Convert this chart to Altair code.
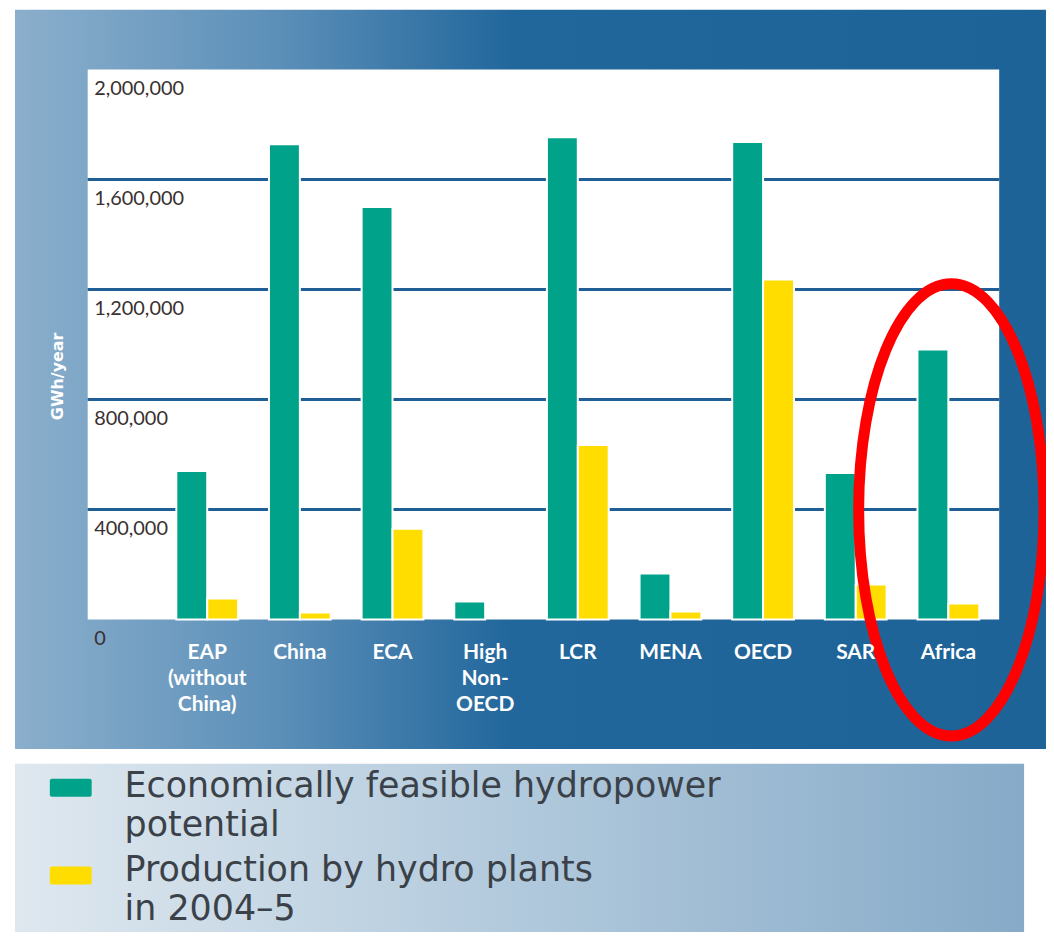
import altair as alt
import pandas as pd

# ---- data (GWh/year) ----
regions = ["EAP (without China)", "China", "ECA", "High Non-OECD", "LCR",
           "MENA", "OECD", "SAR", "Africa"]
potential = [540000, 1728000, 1500000, 65000, 1754000, 167000, 1736000, 533000, 982000]
production = [76000, 25000, 330000, 0, 634000, 29000, 1236000, 127000, 58000]
series = ["Economically feasible hydropower potential", "Production by hydro plants in 2004–5"]
legend_lines = ["Economically feasible hydropower\npotential", "Production by hydro plants\nin 2004–5"]
series_colors = ["#00a389", "#ffdd00"]
y_ticks = [0, 400000, 800000, 1200000, 1600000, 2000000]
grid_values = [400000, 800000, 1200000, 1600000]

rows = []
for r, p, q in zip(regions, potential, production):
    rows.append({"region": r, "series": series[0], "value": p})
    rows.append({"region": r, "series": series[1], "value": q})
df = pd.DataFrame(rows)
grid_df = pd.DataFrame({"value": grid_values})
one = pd.DataFrame({"a": [0]})

W, H = 915, 552
LABEL_FONT = "Lato, Roboto, Liberation Sans, sans-serif"

yscale = alt.Scale(domain=[0, 2000000], nice=False)
yaxis = alt.Axis(title=None, values=y_ticks, domain=False,
                 labelExpr="format(datum.value, ',')",
                 ticks=False, tickSize=0, grid=False, labelAlign="left",
                 labelBaseline="top", labelPadding=-6, labelOffset=9,
                 labelFont=LABEL_FONT, labelFontSize=20, labelColor="#3a3030",
                 zindex=1)

panel_grad = {"gradient": "linear", "x1": 0, "x2": 1, "y1": 0, "y2": 0,
              "stops": [{"offset": 0, "color": "#8bafcc"},
                        {"offset": 0.25, "color": "#5d90b9"},
                        {"offset": 0.48, "color": "#22679c"},
                        {"offset": 1, "color": "#1e6398"}]}
legend_grad = {"gradient": "linear", "x1": 0, "x2": 1, "y1": 0, "y2": 0,
               "stops": [{"offset": 0, "color": "#dfe8ef"},
                         {"offset": 0.5, "color": "#b1c9dc"},
                         {"offset": 1, "color": "#86aac8"}]}

base1 = alt.Chart(one)

panel = base1.mark_rect(color=panel_grad).encode(
    x=alt.value(-73), x2=alt.value(962), y=alt.value(-60), y2=alt.value(682))
legend_box = base1.mark_rect(color=legend_grad).encode(
    x=alt.value(-73), x2=alt.value(940), y=alt.value(697), y2=alt.value(880))
white = base1.mark_rect(color="white").encode(
    x=alt.value(0), x2=alt.value(W), y=alt.value(0), y2=alt.value(H))

grid = alt.Chart(grid_df).mark_rule(color="#1f5f96", strokeWidth=3).encode(
    y=alt.Y("value:Q", scale=yscale, axis=yaxis),
    x=alt.value(0), x2=alt.value(W))

bars = alt.Chart(df).transform_filter("datum.value > 0").mark_bar(
    stroke="white", strokeWidth=2).encode(
    x=alt.X("region:N", sort=regions,
            scale=alt.Scale(range=[73.5, 910.5], paddingInner=0.333, paddingOuter=0.1665),
            axis=alt.Axis(title=None, domain=False, ticks=False, tickSize=0,
                          labelAngle=0, labelPadding=22, labelColor="white",
                          labelFont=LABEL_FONT, labelFontSize=21, labelFontWeight="bold",
                          labelLineHeight=26, labelBaseline="top", labelLimit=200,
                          labelExpr="split(replace(datum.label, '-', '- '), ' ')",
                          zindex=1)),
    xOffset=alt.XOffset("series:N", sort=series,
                        scale=alt.Scale(paddingInner=0, paddingOuter=0)),
    y=alt.Y("value:Q", scale=yscale, axis=yaxis),
    color=alt.Color("series:N", scale=alt.Scale(domain=series, range=series_colors),
                    legend=None),
)

ellipse = base1.mark_point(
    shape="M -0.41 0 A 0.41 1 0 1 1 0.41 0 A 0.41 1 0 1 1 -0.41 0 Z",
    size=454 * 454, filled=False, stroke="#ff0000", strokeWidth=11, opacity=1
).encode(x=alt.value(867), y=alt.value(442))

ytitle = base1.mark_text(text="GWh/year", angle=270, color="white", font="DejaVu Sans",
                         fontWeight="bold", fontSize=16, align="center",
                         baseline="middle").encode(x=alt.value(-30), y=alt.value(308))

legend_layers = []
for i, (lab, col) in enumerate(zip(legend_lines, series_colors)):
    ytop = 712 + i * 88
    legend_layers.append(base1.mark_rect(color=col, cornerRadius=2).encode(
        x=alt.value(-38), x2=alt.value(4), y=alt.value(ytop), y2=alt.value(ytop + 18)))
    legend_layers.append(base1.mark_text(
        text=lab, lineBreak="\n", align="left", baseline="alphabetic",
        font="DejaVu Sans", fontSize=35, lineHeight=39, color="#3b4148").encode(
        x=alt.value(37), y=alt.value(730 + i * 85)))

chart = alt.layer(panel, legend_box, white, grid, bars, ellipse, ytitle,
                  *legend_layers).properties(
    width=W, height=H,
    autosize=alt.AutoSizeParams(type="none"),
    padding={"left": 80, "top": 60, "right": 47, "bottom": 312},
    background="white",
).configure_view(stroke=None)

chart.save("out.html", embed_options={"renderer": "svg", "actions": False})
